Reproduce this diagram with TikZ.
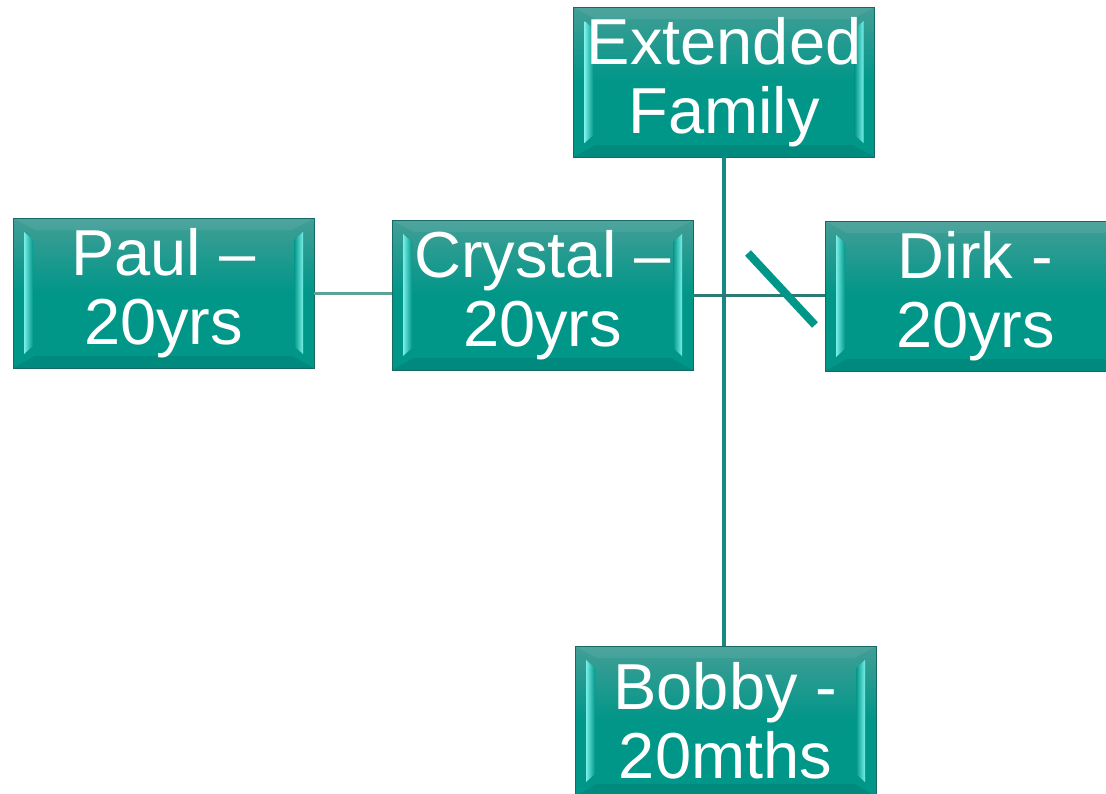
\documentclass[tikz,border=0pt]{standalone}
\usepackage{fontspec}
\setmainfont{Liberation Sans}
\usetikzlibrary{calc}
\definecolor{famteal}{RGB}{0,150,136}
\definecolor{famtop}{RGB}{66,158,150}
\definecolor{famedge}{RGB}{22,105,100}
\definecolor{bevel}{RGB}{120,240,232}
\definecolor{linkteal}{RGB}{25,135,130}
\definecolor{linkgray}{RGB}{92,162,152}
\definecolor{linkdark}{RGB}{45,122,117}

\tikzset{
  famnode/.style={draw=famedge, line width=0.8pt, minimum width=301pt, minimum height=150pt,
    inner sep=0pt, text=white, align=center, font=\fontsize{65}{69}\selectfont,
    top color=famtop, bottom color=famteal, middle color=famteal,
    path picture={
      \coordinate (nw) at (path picture bounding box.north west);
      \coordinate (se) at (path picture bounding box.south east);
      % top and bottom bevel
      \fill[white, opacity=0.07] (nw) -- (nw -| se) -- ([shift={(-22pt,-12pt)}]nw -| se) -- ([shift={(22pt,-12pt)}]nw) -- cycle;
      \fill[black, opacity=0.08] (se) -- (se -| nw) -- ([shift={(22pt,12pt)}]se -| nw) -- ([shift={(-22pt,12pt)}]se) -- cycle;
      % left and right strips
      \shade[left color=bevel, right color=famteal] ([shift={(11pt,-14pt)}]nw) -- ([shift={(20pt,-22pt)}]nw)
        -- ([shift={(20pt,22pt)}]se -| nw) -- ([shift={(11pt,14pt)}]se -| nw) -- cycle;
      \shade[left color=famteal, right color=bevel] ([shift={(-11pt,-14pt)}]nw -| se) -- ([shift={(-20pt,-22pt)}]nw -| se)
        -- ([shift={(-20pt,22pt)}]se) -- ([shift={(-11pt,14pt)}]se) -- cycle;
    }},
  descent/.style={draw=linkteal, line width=4.5pt},
  spouse/.style={draw=linkgray, line width=3pt},
  partner/.style={draw=linkdark, line width=3pt},
  divorce/.style={draw=famteal, line width=8pt}
}

\begin{document}
\begin{tikzpicture}[x=1pt, y=-1pt]
  \useasboundingbox (0,0) rectangle (1106,793);
  \clip (0,0) rectangle (1106,793);
  \fill[white] (0,0) rectangle (1106,793);

  \node[famnode] (ext) at (724,82) {Extended\\Family};
  \node[famnode] (paul) at (163.5,293) {Paul –\\20yrs};
  \node[famnode] (crys) at (542.5,295) {Crystal –\\20yrs};
  \node[famnode] (dirk) at (975.5,296) {Dirk -\\20yrs};
  \node[famnode] (bob) at (725.5,721) {Bobby -\\20mths};

  % lines between the boxes
  \draw[descent] (ext.south) -- (ext.south |- bob.north);
  \draw[spouse] (paul.east) -- (paul.east -| crys.west);
  \draw[partner] (crys.east) -- (crys.east -| dirk.west);

  % split mark
  \coordinate (cut1) at (748,253);
  \coordinate (cut2) at (815,325);
  \draw[divorce] (cut1) -- (cut2);
\end{tikzpicture}
\end{document}
